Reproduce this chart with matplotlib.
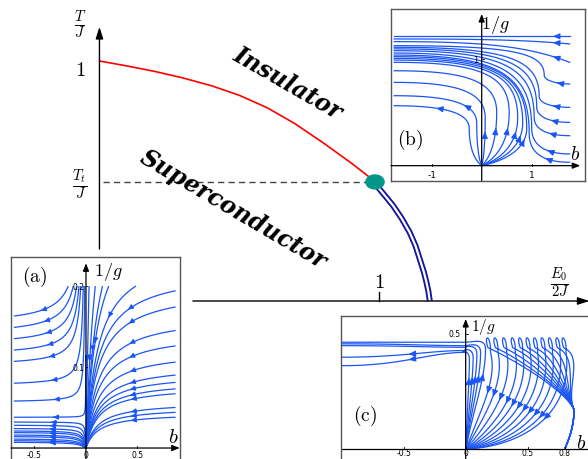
import numpy as np
import matplotlib.pyplot as plt
from matplotlib.patches import Ellipse

plt.rcParams['mathtext.fontset'] = 'cm'

# ---- main phase diagram ----
red_x = [0.0, 0.1, 0.2, 0.3, 0.4, 0.5, 0.6, 0.7, 0.8, 0.9, 0.985]
red_y = [1.0, 0.979, 0.956, 0.929, 0.897, 0.857, 0.805, 0.738, 0.659, 0.575, 0.498]
blue_x = [0.985, 0.995, 1.02, 1.05, 1.08, 1.109, 1.13, 1.145, 1.16, 1.169, 1.176, 1.181]
blue_y = [0.496, 0.475, 0.44, 0.397, 0.345, 0.286, 0.23, 0.175, 0.12, 0.078, 0.04, 0.0]
t_t = 0.496
dot_x = 0.985

# ---- inset (a): start points of the flow lines ----
a_right_u = [0.194, 0.174, 0.145, 0.126, 0.106, 0.090, 0.081, 0.073, 0.067, 0.050, 0.044, 0.038]
a_top_b = [0.03, 0.09, 0.16, 0.22, 0.48]
a_left_u = [0.163, 0.149, 0.135, 0.121, 0.107, 0.080, 0.058, 0.038, 0.032, 0.028,
            0.024, 0.021, 0.019, 0.016, 0.014, 0.011, 0.009, 0.007]

# ---- inset (b): lines out of the origin / in from the right edge ----
b_fan_h = [0.562, 0.656, 0.781, 0.890, 0.969, 0.990, 1.006, 1.022]   # height at left edge
b_fan_c = [-0.25, -0.10, 0.07, 0.30, 0.55, 0.72, 0.82, 0.90]        # where it turns up
b_fan_m = [0.35, 0.40, 0.45, 0.50, 0.50, 0.45, 0.40, 0.35]
b_right_r = [0.032, 0.110, 0.281, 0.406, 0.547, 0.766]              # height at right edge
b_right_h = [1.037, 1.056, 1.078, 1.095, 1.110, 1.125]
b_right_c = [0.95, 1.00, 1.05, 1.10, 1.15, 1.25]
b_right_m = [0.30, 0.35, 0.45, 0.55, 0.65, 0.85]
b_top_r = [0.969, 1.141, 1.213]
b_top_h = [1.163, 1.188, 1.213]

# ---- inset (c) ----
c_loop_b = [0.20, 0.26, 0.33, 0.40, 0.46, 0.52, 0.58, 0.64, 0.70, 0.76, 0.81]
c_axis_b = [0.03, 0.06, 0.09, 0.12, 0.16]
c_axis_u0 = [0.420, 0.428, 0.442, 0.449, 0.464]
c_left_u = [0.362, 0.399, 0.449, 0.457, 0.464]
c_sink = (0.80, 0.0)

flow_col = '#1a55f5'

fig = plt.figure(figsize=(5.88, 4.6), dpi=100)
ax = fig.add_axes([0, 0, 1, 1])
ax.set_xlim(-0.3556, 1.7466)
ax.set_ylim(-0.6583, 1.2583)
ax.axis('off')

arr = dict(arrowstyle='-|>,head_length=0.5,head_width=0.16', color='black',
           lw=1.0, mutation_scale=14, shrinkA=0, shrinkB=0)
ax.annotate('', xy=(0, 1.142), xytext=(0, 0.2167), arrowprops=arr, annotation_clip=False)
ax.annotate('', xy=(1.752, 0), xytext=(0.334, 0), arrowprops=arr, annotation_clip=False)
ax.plot([1, 1], [0, 0.0375], color='black', lw=1.0)

ax.plot(red_x, red_y, color='red', lw=1.2)
ax.plot([0.012, dot_x], [t_t, t_t], color='#444444', lw=1.0, dashes=(4.5, 3))
ax.plot(blue_x, blue_y, color='#15159a', lw=4.3, solid_capstyle='butt')
ax.plot(blue_x, blue_y, color='white', lw=1.6, solid_capstyle='butt')
ax.add_patch(Ellipse((dot_x, t_t), 0.065, 0.058, color='#009688', zorder=5))

ax.text(-0.07, 0.967, '$1$', fontsize=15, ha='center', va='center')
ax.text(-0.07, 1.154, r'$\frac{T}{J}$', fontsize=15, ha='center', va='center')
ax.text(-0.07, 0.49, r'$\frac{T_t}{J}$', fontsize=15, ha='center', va='center')
ax.text(1, 0.083, '$1$', fontsize=15, ha='center', va='center')
ax.text(1.646, 0.081, r'$\frac{E_0}{2J}$', fontsize=15, ha='center', va='center')

ax.text(0.674, 0.9125, 'Insulator', fontsize=17, family='DejaVu Serif',
        weight='bold', style='italic', rotation=-30, ha='center', va='center',
        rotation_mode='anchor')
ax.text(0.477, 0.383, 'Superconductor', fontsize=17, family='DejaVu Serif',
        weight='bold', style='italic', rotation=-30.5, ha='center', va='center',
        rotation_mode='anchor')


def inset(rect, xlim, ylim):
    a = fig.add_axes(rect)
    a.set_xlim(*xlim)
    a.set_ylim(*ylim)
    a.set_facecolor('white')
    a.set_xticks([])
    a.set_yticks([])
    for s in a.spines.values():
        s.set_color('#555555')
        s.set_linewidth(1.0)
    return a


def bez(P, n=40):
    P = np.asarray(P, float)
    t = np.linspace(0, 1, n)[:, None]
    return (1 - t) ** 3 * P[0] + 3 * (1 - t) ** 2 * t * P[1] + 3 * (1 - t) * t ** 2 * P[2] + t ** 3 * P[3]


def flow_arrow(a, pts, i, step=1):
    a.annotate('', xy=pts[i + step], xytext=pts[i],
               arrowprops=dict(arrowstyle='-|>,head_length=0.5,head_width=0.22',
                               color=flow_col, lw=0.8, mutation_scale=8,
                               shrinkA=0, shrinkB=0))


sp = dict(color=flow_col, linewidth=0.9, arrowsize=0.7, arrowstyle='-|>',
          broken_streamlines=False, integration_direction='both', density=3)
arr_s = dict(arrowstyle='-|>,head_length=0.5,head_width=0.2', color='black',
             lw=0.9, mutation_scale=9, shrinkA=0, shrinkB=0)

# ---------- inset (a) ----------
axa = inset([11 / 588, -10 / 460, 169 / 588, 212 / 460], (-0.728, 0.913), (-0.0259, 0.2358))
s_r, k_l, u_s = 0.12, 0.04, 0.036
br = np.linspace(0.002, 0.87, 300)
uu = np.linspace(0.0, 0.2, 300)
B, U = np.meshgrid(br, uu)
axa.streamplot(B, U, -np.ones_like(B), -U * s_r / (B * (B + s_r)),
               start_points=np.array([[0.865, u] for u in a_right_u] +
                                     [[b, 0.1995] for b in a_top_b]), **sp)
bl = np.linspace(-0.70, -0.002, 300)
B, U = np.meshgrid(bl, uu)
fac = 2 * (U - u_s) / (U + u_s)
axa.streamplot(B, U, -np.ones_like(B), -U * k_l / (np.abs(B) * (np.abs(B) + k_l)) * fac,
               start_points=np.array([[-0.695, u] for u in a_left_u]), **sp)

axa.annotate('', xy=(0.91, 0), xytext=(-0.728, 0), arrowprops=arr_s, annotation_clip=False)
axa.annotate('', xy=(0, 0.228), xytext=(0, -0.0259), arrowprops=arr_s, annotation_clip=False)
for x, lab in zip([-0.5, 0, 0.5], ['-0.5', '0', '0.5']):
    axa.plot([x, x], [0, 0.003], color='black', lw=0.6)
    axa.text(x, -0.0074, lab, fontsize=5.5, ha='center', va='center')
for y, lab in zip([0.1, 0.2], ['0.1', '0.2']):
    axa.plot([0, 0.012], [y, y], color='black', lw=0.6)
    axa.text(-0.015, y, lab, fontsize=5.5, ha='right', va='center')
axa.text(0.214, 0.2185, '$1/g$', fontsize=13, ha='center', va='center')
axa.text(0.845, 0.0148, '$b$', fontsize=15, ha='center', va='center')
axa.text(-0.495, 0.212, r'$\mathrm{(a)}$', fontsize=14, ha='center', va='center')

# ---------- inset (b) ----------
axb = inset([391 / 588, (460 - 181.7) / 460, 194 / 588, 171.7 / 460], (-1.814, 2.066), (-0.141, 1.469))
b_l, b_r = -1.75, 1.76


def b_corner(c, m, h):
    # from going up at (c, m) round to the left edge at height h
    return bez([(c, m), (c, m + 0.75 * (h - m)), (c - 0.6, h), (b_l, h)])


for i, (h, c, m) in enumerate(zip(b_fan_h, b_fan_c, b_fan_m)):
    seg = bez([(0.0, 0.0), (0.6 * c, 0.15 * m), (c, 0.5 * m), (c, m)])
    top = b_corner(c, m, h)
    pts = np.vstack([seg, top])
    axb.plot(pts[:, 0], pts[:, 1], color=flow_col, lw=0.9)
    if c < 0:
        flow_arrow(axb, top, 24 if i == 0 else 14)
    else:
        flow_arrow(axb, seg, 30)
for r, h, c, m in zip(b_right_r, b_right_h, b_right_c, b_right_m):
    seg = bez([(b_r, r), (c + 0.3, r), (c, r + 0.3 * (m - r)), (c, m)])
    top = b_corner(c, m, h)
    pts = np.vstack([seg, top])
    axb.plot(pts[:, 0], pts[:, 1], color=flow_col, lw=0.9)
    flow_arrow(axb, seg, 14)
for r, h in zip(b_top_r, b_top_h):
    pts = bez([(b_r, r), (0.9, r + 0.8 * (h - r)), (0.0, h), (b_l, h)])
    axb.plot(pts[:, 0], pts[:, 1], color=flow_col, lw=0.9)
    flow_arrow(axb, pts, 4)

axb.annotate('', xy=(1.97, 0), xytext=(-1.814, 0), arrowprops=arr_s, annotation_clip=False)
axb.annotate('', xy=(0, 1.422), xytext=(0, -0.141), arrowprops=arr_s, annotation_clip=False)
for x, lab in zip([-1, 1], ['-1', '1']):
    axb.plot([x, x], [0, 0.02], color='black', lw=0.6)
    axb.text(x, -0.087, lab, fontsize=6.5, ha='center', va='center')
axb.plot([0, 0.05], [1, 1], color='black', lw=0.6)
axb.text(-0.114, 1.0, '1', fontsize=6, ha='center', va='center')
axb.text(0.27, 1.328, '$1/g$', fontsize=13, ha='center', va='center')
axb.text(1.866, 0.11, '$b$', fontsize=14, ha='center', va='center')
axb.text(-1.434, 0.25, r'$\mathrm{(b)}$', fontsize=14, ha='center', va='center')

# ---------- inset (c) ----------
axc = inset([340.7 / 588, -10 / 460, 262 / 588, 153 / 460], (-1.008, 1.105), (-0.087, 0.578))
for b0 in c_loop_b:
    fan = bez([(0.004, 0.0), (0.55 * b0, 0.25 * (1 - b0) ** 2),
               (b0 + 0.06, 0.1 + 0.25 * (1 - b0)), (b0, 0.42)])
    loop = bez([(b0, 0.42), (b0 + 0.005, 0.50), (b0 - 0.06, 0.50), (b0 - 0.02, 0.44)])
    down = bez([(b0 - 0.02, 0.44), (b0 + 0.15, 0.40), (0.80, 0.26), (0.875, 0.17)])
    tail = bez([(0.875, 0.17), (0.87, 0.08), (0.82, 0.03), c_sink])
    pts = np.vstack([fan, loop, down, tail])
    axc.plot(pts[:, 0], pts[:, 1], color=flow_col, lw=0.9)
    flow_arrow(axc, fan, 22, -1)
for b0, u0, u1 in zip(c_axis_b, c_axis_u0, c_left_u):
    up = bez([(0.003, 0.0), (0.3 * b0, 0.15), (b0, 0.3), (b0, u0 - 0.03)])
    turn = bez([(b0, u0 - 0.03), (b0, u0 + 0.02), (b0 - 0.1, u0), (0.0, u0)])
    left = bez([(0.0, u0), (-0.3, u0), (-0.5, u1), (-1.0, u1)])
    pts = np.vstack([up, turn, left])
    axc.plot(pts[:, 0], pts[:, 1], color=flow_col, lw=0.9)
    flow_arrow(axc, up, 28)
    if u1 < 0.41:
        flow_arrow(axc, left, 20)
axc.plot([-1.008, 1.105], [0, 0], color='black', lw=0.9)
axc.annotate('', xy=(0, 0.565), xytext=(0, -0.087), arrowprops=arr_s, annotation_clip=False)
for x, lab in zip([-0.5, 0, 0.5, 0.8], ['-0.5', '0', '0.5', '0.8']):
    axc.plot([x, x], [0, 0.008], color='black', lw=0.6)
    axc.text(x, -0.0174, lab, fontsize=5.5, ha='center', va='center')
axc.plot([0, 0.015], [0.5, 0.5], color='black', lw=0.6)
axc.text(-0.04, 0.5, '0.5', fontsize=5.5, ha='right', va='center')
axc.text(0.14, 0.535, '$1/g$', fontsize=11, ha='center', va='center')
axc.text(0.93, 0.03, '$b$', fontsize=14, ha='center', va='center')
axc.text(-0.815, 0.148, r'$\mathrm{(c)}$', fontsize=14, ha='center', va='center')

fig.savefig('out.png', dpi=100)
